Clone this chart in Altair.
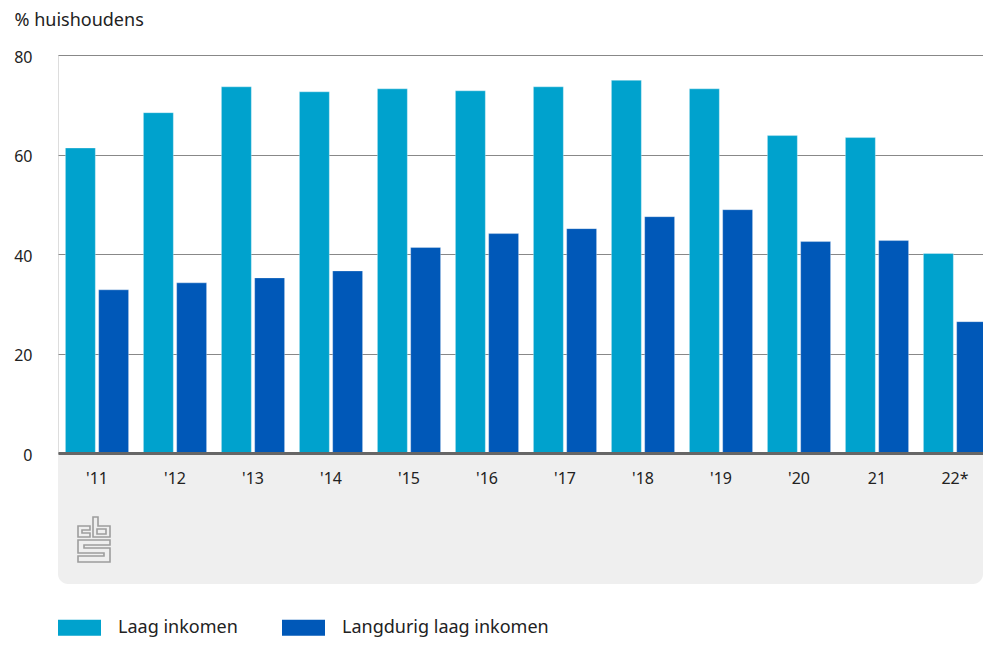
import altair as alt
import pandas as pd

years = ["'11", "'12", "'13", "'14", "'15", "'16", "'17", "'18", "'19", "'20", "21", "22*"]
series = ["Laag inkomen", "Langdurig laag inkomen"]
laag = [61.3, 68.4, 73.6, 72.6, 73.2, 72.8, 73.6, 74.9, 73.2, 63.8, 63.4, 40.1]
langdurig = [32.8, 34.2, 35.2, 36.6, 41.3, 44.1, 45.1, 47.5, 48.9, 42.5, 42.7, 26.4]
colors = ["#00a2cd", "#0058b8"]
y_ticks = [0, 20, 40, 60, 80]

rows = []
for i, y in enumerate(years):
    rows.append({"year": y, "series": series[0], "value": laag[i]})
    rows.append({"year": y, "series": series[1], "value": langdurig[i]})
df = pd.DataFrame(rows)

W = 925          # visible plot width (svg is clipped before the window edge)
RANGE_W = 936    # band scale range, wider than the visible area like the reference
H = 398
FONT = "Noto Sans"

panel = alt.Chart(pd.DataFrame({"a": [0]})).mark_rect(
    color="#efefef", cornerRadiusBottomLeft=10, cornerRadiusBottomRight=10
).encode(
    x=alt.value(0), x2=alt.value(W), y=alt.value(H + 1), y2=alt.value(H + 131)
)

bars = alt.Chart(df).mark_bar(stroke="#ffffff", strokeWidth=0.6, strokeOpacity=0.5).encode(
    x=alt.X(
        "year:N", sort=years,
        scale=alt.Scale(paddingInner=0.19, paddingOuter=0.095, range=[0, RANGE_W]),
        axis=alt.Axis(
            title=None, labelAngle=0, labelFontSize=16, labelColor="#222222",
            labelPadding=17, ticks=False, domainColor="#666666", domainWidth=3,
            labelFont=FONT, zindex=1, grid=False,
        ),
    ),
    xOffset=alt.XOffset("series:N", sort=series, scale=alt.Scale(paddingInner=0.1)),
    y=alt.Y(
        "value:Q",
        scale=alt.Scale(domain=[0, 80], nice=False),
        axis=alt.Axis(
            values=y_ticks, title="% huishoudens", titleAngle=0, titleAlign="left",
            titleBaseline="top", titleX=-44, titleY=-44, titleFontSize=18,
            titleFontWeight="normal", titleColor="#222222", titleFont=FONT,
            labelFontSize=16, labelColor="#222222", labelPadding=26, labelFont=FONT,
            labelOffset=2, domain=False, ticks=False, grid=True, gridColor="#888888",
            gridWidth=1,
        ),
    ),
    color=alt.Color(
        "series:N", sort=series,
        scale=alt.Scale(domain=series, range=colors),
        legend=alt.Legend(
            title=None, orient="none", legendX=0, legendY=551, direction="horizontal",
            symbolType="M-1,-0.372H1V0.372H-1Z", symbolSize=1849, symbolStrokeWidth=0,
            labelFontSize=18, labelColor="#222222", labelFont=FONT, labelOffset=17,
            columnPadding=44, labelLimit=0,
        ),
    ),
)

# CBS logo drawn as one custom symbol path (pixel outline normalised around its centre)
CX, CY, R = 94.0, 539.5, 22.5
logo_polys = [
    [(90, 526), (78, 526), (78, 537), (90, 537), (90, 533), (82, 533), (82, 530), (90, 530)],
    [(93, 517), (98, 517), (98, 526), (110, 526), (110, 537), (93, 537)],
    [(97, 529), (106, 529), (106, 534), (97, 534)],
    [(110, 540), (78, 540), (78, 553), (104, 553), (104, 556), (78, 556), (78, 562),
     (110, 562), (110, 548), (84, 548), (84, 545), (110, 545)],
]
parts = []
for poly in logo_polys:
    pts = ["%.4f,%.4f" % ((px - CX) / R, (py - CY) / R) for px, py in poly]
    parts.append("M" + "L".join(pts) + "Z")
logo_path = " ".join(parts)

logo = alt.Chart(pd.DataFrame({"a": [0]})).mark_point(
    shape=logo_path, size=(2 * R) ** 2, filled=False, stroke="#9d9d9d",
    strokeWidth=1.6, opacity=1,
).encode(x=alt.value(CX - 58), y=alt.value(CY - 55))

chart = alt.layer(panel, bars, logo).properties(
    width=W, height=H,
    autosize=alt.AutoSizeParams(type="none"),
    padding={"left": 50, "top": 47, "right": 0, "bottom": 187},
).configure_view(stroke=None).configure(font=FONT)

chart.save("out.html", embed_options={"renderer": "svg", "actions": False})
